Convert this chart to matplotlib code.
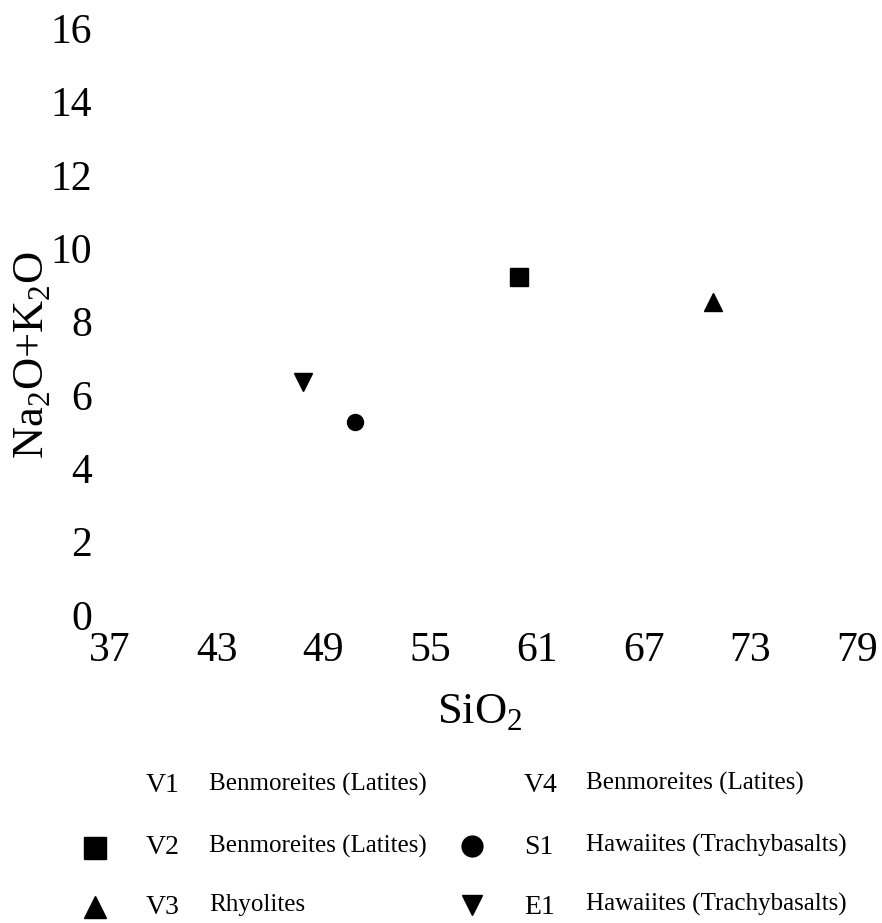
import matplotlib
matplotlib.use('Agg')
import matplotlib.pyplot as plt
import numpy as np

plt.rcParams['font.family'] = ['Liberation Serif', 'DejaVu Serif']
plt.rcParams['mathtext.fontset'] = 'custom'
plt.rcParams['mathtext.rm'] = 'Liberation Serif'

# samples plotted on the TAS diagram
samples = ['V2', 'V3', 'S1', 'E1']
sio2 = [60.0, 70.9, 50.8, 47.85]
alkali = [9.21, 8.53, 5.26, 6.35]
markers = ['s', '^', 'o', 'v']

x_ticks = [37, 43, 49, 55, 61, 67, 73, 79]
y_ticks = [0, 2, 4, 6, 8, 10, 12, 14, 16]

# legend table: two columns of three rows
leg_left_names = ['V1', 'V2', 'V3']
leg_left_rocks = ['Benmoreites (Latites)', 'Benmoreites (Latites)', 'Rhyolites']
leg_left_marks = [None, 's', '^']
leg_right_names = ['V4', 'S1', 'E1']
leg_right_rocks = ['Benmoreites (Latites)', 'Hawaiites (Trachybasalts)', 'Hawaiites (Trachybasalts)']
leg_right_marks = [None, 'o', 'v']

W, H = 882, 923
fig = plt.figure(figsize=(W / 100, H / 100), dpi=100)
ax = fig.add_axes([110 / W, 1 - 615 / H, (857 - 110) / W, (615 - 28) / H])

for x, y, m in zip(sio2, alkali, markers):
    ax.plot(x, y, marker=m, color='black', markersize=12.5 if m != 'o' else 11.5,
            linestyle='none')

ax.set_xlim(37, 79)
ax.set_ylim(0, 16)
ax.set_xticks(x_ticks)
ax.set_yticks(y_ticks)
ax.tick_params(axis='x', length=0, pad=12, labelsize=30)
ax.tick_params(axis='y', length=0, pad=13, labelsize=30)
for s in ax.spines.values():
    s.set_visible(False)

fig.text(480 / W, 1 - 713 / H, r'SiO$_\mathrm{2}$', fontsize=32, ha='center', va='center')
fig.text(33 / W, 1 - 355 / H, r'Na$_\mathrm{2}$O+K$_\mathrm{2}$O', fontsize=32,
         rotation=90, ha='center', va='center')

# legend drawn in pixel space
lax = fig.add_axes([0, 0, 1, 1])
lax.set_xlim(0, W)
lax.set_ylim(H, 0)
lax.axis('off')
rows_y = [786, 848, 907]
for i in range(3):
    yy = rows_y[i]
    if leg_left_marks[i]:
        lax.plot(95, yy, marker=leg_left_marks[i], color='black', markersize=15.5)
    lax.text(146, yy, leg_left_names[i], fontsize=20, va='center', ha='left')
    lax.text(209, yy - 2, leg_left_rocks[i], fontsize=18, va='center', ha='left')
    if leg_right_marks[i]:
        lax.plot(472, yy - 2, marker=leg_right_marks[i], color='black', markersize=15)
    lax.text(524, yy, leg_right_names[i], fontsize=20, va='center', ha='left')
    lax.text(586, yy - 3, leg_right_rocks[i], fontsize=18, va='center', ha='left')

fig.savefig('out.png', dpi=100)
